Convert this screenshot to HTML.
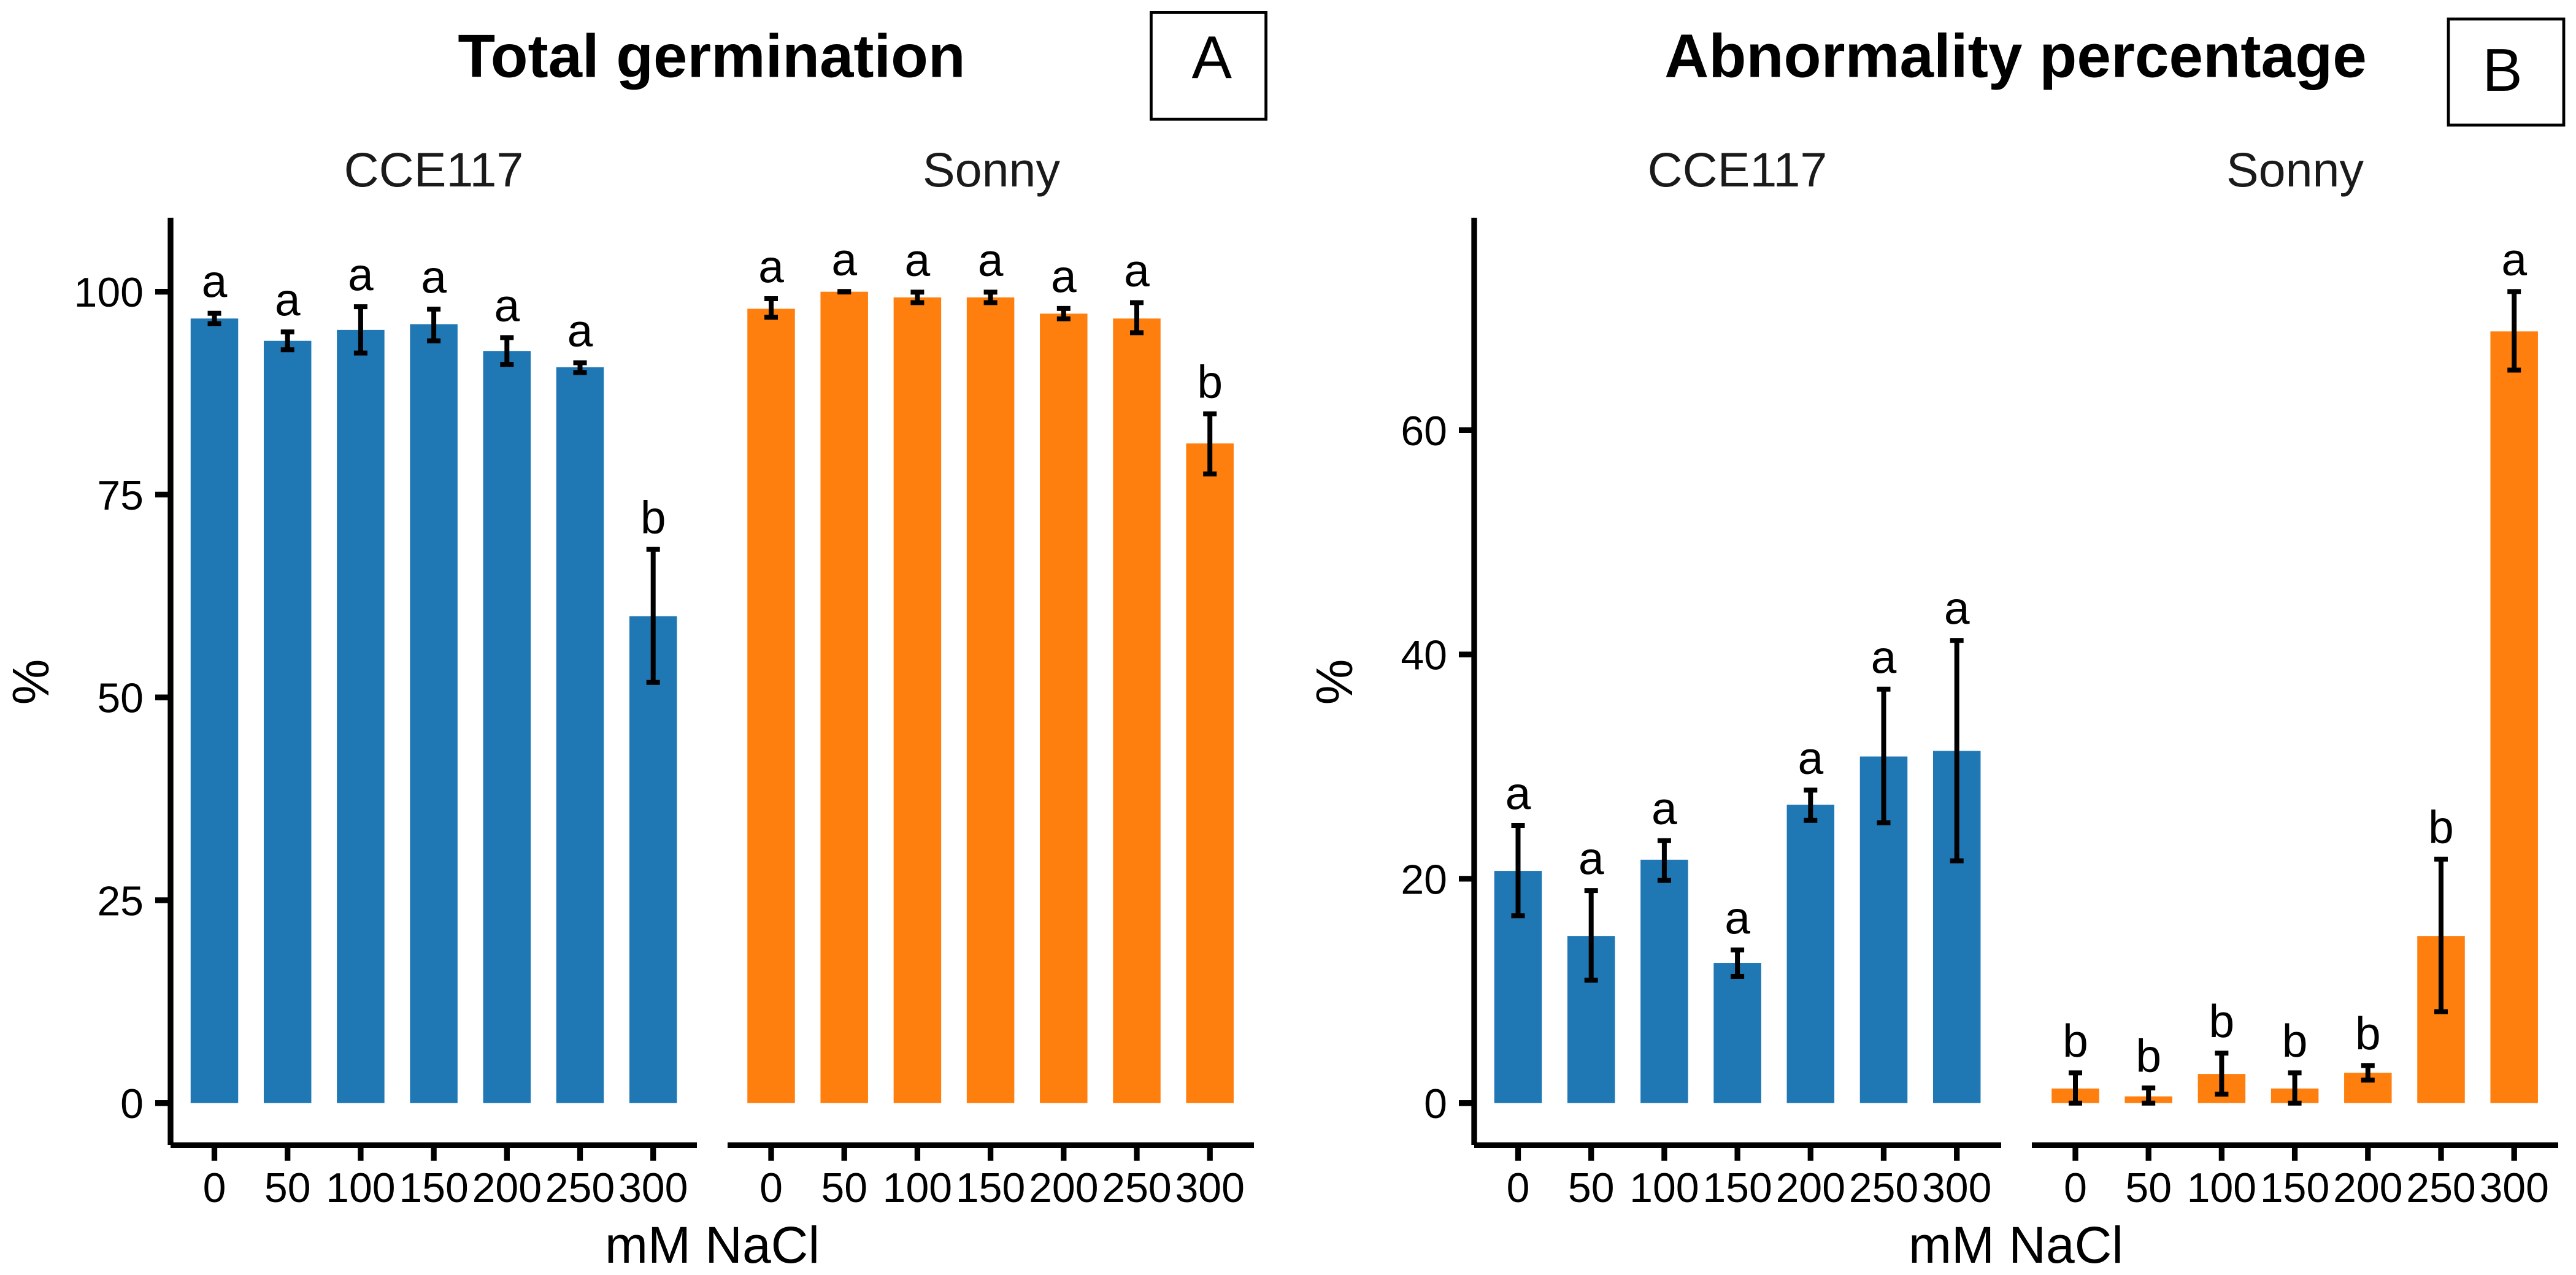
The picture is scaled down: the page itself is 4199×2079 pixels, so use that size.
<!DOCTYPE html>
<html lang="en">
<head>
<meta charset="utf-8">
<title>Total germination and abnormality percentage</title>
<style>
html,body{margin:0;padding:0;background:#fff;}
svg{display:block;}
text{font-family:"Liberation Sans",Arial,sans-serif;fill:#000;}
</style>
</head>
<body>
<svg id="chart" xmlns="http://www.w3.org/2000/svg" width="4199" height="2079" viewBox="0 0 4199 2079">
  <rect x="0" y="0" width="4199" height="2079" fill="#fff"/>

  <text x="1160" y="125.5" font-size="99.5" font-weight="700" text-anchor="middle">Total germination</text>
  <text x="3285.5" y="125.5" font-size="100" font-weight="700" text-anchor="middle">Abnormality percentage</text>

  <rect x="1876.4" y="20.4" width="187.2" height="173.9" fill="none" stroke="#000" stroke-width="4.8"/>
  <text x="1975.3" y="127.7" font-size="98" text-anchor="middle">A</text>
  <rect x="3991" y="31" width="188" height="173" fill="none" stroke="#000" stroke-width="4.8"/>
  <text x="4079" y="148" font-size="98" text-anchor="middle">B</text>

  <text x="707" y="304" font-size="79" text-anchor="middle" style="fill:#1a1a1a">CCE117</text>
  <text x="1616" y="304" font-size="79" text-anchor="middle" style="fill:#1a1a1a">Sonny</text>
  <text x="2832" y="304" font-size="79" text-anchor="middle" style="fill:#1a1a1a">CCE117</text>
  <text x="3741" y="304" font-size="79" text-anchor="middle" style="fill:#1a1a1a">Sonny</text>

  <text x="1161" y="2059" font-size="84" text-anchor="middle">mM NaCl</text>
  <text x="3286" y="2059" font-size="84" text-anchor="middle">mM NaCl</text>
  <text transform="translate(79,1112) rotate(-90)" font-size="84" text-anchor="middle">%</text>
  <text transform="translate(2204,1112) rotate(-90)" font-size="84" text-anchor="middle">%</text>

  <g id="marks"></g>
</svg>

<script>
// ---- categories and tick labels ----
const categories = ["0", "50", "100", "150", "200", "250", "300"];
const yTicksA = [0, 25, 50, 75, 100];
const yTicksB = [0, 20, 40, 60];

// ---- Panel A: Total germination ----
const germCceMean  = [96.7, 93.95, 95.3, 96.0, 92.7, 90.7, 60.0];
const germCceUpper = [97.35, 95.05, 98.15, 97.85, 94.35, 91.25, 68.25];
const germCceLower = [96.05, 92.85, 92.45, 93.95, 91.05, 90.05, 51.85];
const germCceLetters = ["a", "a", "a", "a", "a", "a", "b"];

const germSonnyMean  = [97.9, 100, 99.3, 99.3, 97.3, 96.7, 81.3];
const germSonnyUpper = [99.15, 100.03, 99.95, 99.95, 97.95, 98.65, 84.95];
const germSonnyLower = [96.85, 99.97, 98.65, 98.65, 96.65, 94.95, 77.55];
const germSonnyLetters = ["a", "a", "a", "a", "a", "a", "b"];

// ---- Panel B: Abnormality percentage ----
const abnCceMean  = [20.7, 14.9, 21.7, 12.5, 26.6, 30.9, 31.4];
const abnCceUpper = [24.75, 18.95, 23.4, 13.65, 27.9, 36.9, 41.25];
const abnCceLower = [16.7, 10.95, 19.85, 11.3, 25.2, 25.0, 21.6];
const abnCceLetters = ["a", "a", "a", "a", "a", "a", "a"];

const abnSonnyMean  = [1.3, 0.6, 2.6, 1.3, 2.7, 14.9, 68.8];
const abnSonnyUpper = [2.7, 1.35, 4.45, 2.7, 3.35, 21.75, 72.35];
const abnSonnyLower = [0, 0, 0.8, 0, 2.05, 8.15, 65.35];
const abnSonnyLetters = ["b", "b", "b", "b", "b", "b", "a"];

const BLUE = "#1f77b4";
const ORANGE = "#ff7f0e";
const SVGNS = "http://www.w3.org/2000/svg";
const marks = document.getElementById("marks");
const AXIS_W = 9.3;
const ERR_W = 8;

function el(tag, attrs) {
  const n = document.createElementNS(SVGNS, tag);
  for (const k in attrs) n.setAttribute(k, attrs[k]);
  marks.appendChild(n);
  return n;
}

// axis functions
const yZero = 1798.7;
function yScaleA(v) { return yZero - v * 13.23; }
function yScaleB(v) { return yZero - v * 18.29; }
function xScale(start, i) { return start + i * 119.2; }

function drawYAxis(axisX, ticks, yScale, key) {
  const line = el("line", { x1: axisX, x2: axisX, y1: 355, y2: 1867, stroke: "#000", "stroke-width": AXIS_W });
  
  
  ticks.forEach(function (t) {
    const y = yScale(t);
    const tick = el("line", { x1: axisX - 25, x2: axisX, y1: y, y2: y, stroke: "#000", "stroke-width": AXIS_W });
    
    
    const label = el("text", { x: axisX - 44, y: y + 24.5, "font-size": 68, "text-anchor": "end" });
    label.textContent = String(t);
    
    
  });
}

function drawFacet(opt) {
  const axis = el("line", { x1: opt.axisStart, x2: opt.axisEnd, y1: 1867.3, y2: 1867.3, stroke: "#000", "stroke-width": AXIS_W });
  
  

  categories.forEach(function (cat, i) {
    const cx = xScale(opt.start, i);

    const tick = el("line", { x1: cx, x2: cx, y1: 1867.3, y2: 1892.7, stroke: "#000", "stroke-width": AXIS_W });
    
    

    const tickLabel = el("text", { x: cx, y: 1960, "font-size": 68, "text-anchor": "middle" });
    tickLabel.textContent = cat;
    
    

    const top = opt.y(opt.mean[i]);
    const bar = el("rect", { x: cx - 38.75, y: top, width: 77.5, height: opt.y(0) - top, fill: opt.color });
    
    

    const yUp = opt.y(opt.upper[i]);
    const yLo = opt.y(opt.lower[i]);
    const stem = el("line", { x1: cx, x2: cx, y1: yUp, y2: yLo, stroke: "#000", "stroke-width": ERR_W });
    
    

    const capTop = el("line", { x1: cx - 11, x2: cx + 11, y1: yUp, y2: yUp, stroke: "#000", "stroke-width": ERR_W });
    
    

    const capLow = el("line", { x1: cx - 11, x2: cx + 11, y1: yLo, y2: yLo, stroke: "#000", "stroke-width": ERR_W });
    
    

    const letter = el("text", { x: cx, y: yUp - 26.5, "font-size": 75, "text-anchor": "middle" });
    letter.textContent = opt.letters[i];
    
    
  });
}

drawFacet({ key: "a-cce117", start: 349.5, axisStart: 278, axisEnd: 1136, y: yScaleA, mean: germCceMean, upper: germCceUpper, lower: germCceLower, letters: germCceLetters, color: BLUE });
drawFacet({ key: "a-sonny", start: 1257, axisStart: 1186, axisEnd: 2044, y: yScaleA, mean: germSonnyMean, upper: germSonnyUpper, lower: germSonnyLower, letters: germSonnyLetters, color: ORANGE });
drawFacet({ key: "b-cce117", start: 2474.5, axisStart: 2403, axisEnd: 3262, y: yScaleB, mean: abnCceMean, upper: abnCceUpper, lower: abnCceLower, letters: abnCceLetters, color: BLUE });
drawFacet({ key: "b-sonny", start: 3383, axisStart: 3312, axisEnd: 4170, y: yScaleB, mean: abnSonnyMean, upper: abnSonnyUpper, lower: abnSonnyLower, letters: abnSonnyLetters, color: ORANGE });
drawYAxis(278, yTicksA, yScaleA, "a");
drawYAxis(2403, yTicksB, yScaleB, "b");
</script>
</body>
</html>
